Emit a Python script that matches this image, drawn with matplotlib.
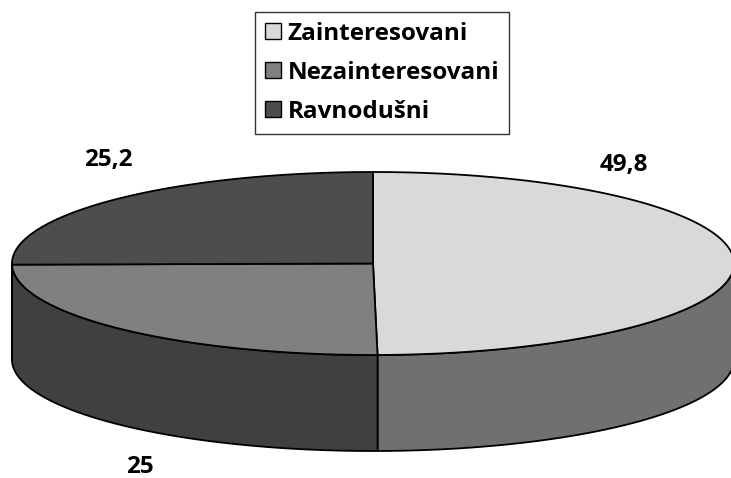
import numpy as np
import matplotlib
matplotlib.use('Agg')
import matplotlib.pyplot as plt
from matplotlib.patches import Polygon, Patch

categories = ['Zainteresovani', 'Nezainteresovani', 'Ravnodušni']
values = [49.8, 25.0, 25.2]

top_colors = ['#d9d9d9', '#808080', '#4d4d4d']
side_colors = ['#707070', '#404040', '#404040']
label_pos = [(624, 165), (140, 467), (108, 160)]

plt.rcParams['font.family'] = ['Open Sans', 'DejaVu Sans']

fig = plt.figure(figsize=(7.31, 4.78), dpi=100)
ax = fig.add_axes([0, 0, 1, 1])
ax.set_xlim(0, 731)
ax.set_ylim(478, 0)
ax.set_axis_off()

# pie geometry in pixels (y down)
cx, cy, a, b, h = 373, 263.5, 361, 91.5, 96

def pt(t, dy=0):
    return cx + a * np.cos(np.radians(t)), cy - b * np.sin(np.radians(t)) + dy

fracs = np.array(values) / sum(values)
starts = 90 - 360 * np.concatenate([[0], np.cumsum(fracs)[:-1]])
ends = starts - 360 * fracs

# side walls first (front half only, angles in [-180, 0])
for s, e, col in zip(starts, ends, side_colors):
    for off in (0, -360):
        hi = min(s + off, 0)
        lo = max(e + off, -180)
        if hi <= lo:
            continue
        ts = np.linspace(hi, lo, 80)
        upper = [pt(t) for t in ts]
        lower = [pt(t, h) for t in ts[::-1]]
        ax.add_patch(Polygon(upper + lower, closed=True, facecolor=col,
                             edgecolor='black', lw=1.3, joinstyle='round'))

# top faces
for s, e, col in zip(starts, ends, top_colors):
    ts = np.linspace(s, e, 200)
    pts = [(cx, cy)] + [pt(t) for t in ts]
    ax.add_patch(Polygon(pts, closed=True, facecolor=col,
                         edgecolor='black', lw=1.3, joinstyle='round'))

for v, (x, y) in zip(values, label_pos):
    ax.text(x, y, f'{v:g}'.replace('.', ','), ha='center', va='center',
            fontsize=17.5, fontweight='bold', color='black')

handles = [Patch(facecolor=c, edgecolor='black', lw=1) for c in top_colors]
leg = ax.legend(handles, categories, loc='upper left',
                bbox_to_anchor=(255 / 731, 1 - 12 / 478), borderaxespad=0,
                prop={'size': 17.5, 'weight': 'bold'}, frameon=True,
                fancybox=False, handlelength=0.65, handleheight=0.65,
                handletextpad=0.3, labelspacing=0.62, borderpad=0.4)
leg.get_frame().set_edgecolor('black')
leg.get_frame().set_linewidth(1)

fig.savefig('out.png', dpi=100)
